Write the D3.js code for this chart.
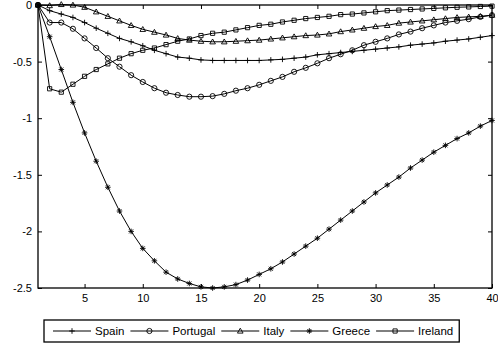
<!DOCTYPE html>
<html>
<head>
<meta charset="utf-8">
<script src="https://cdn.jsdelivr.net/npm/d3@7"></script>
<style>
  html, body { margin: 0; padding: 0; background: #fff; }
  svg { display: block; font-family: "Liberation Sans", Arial, sans-serif; }
</style>
</head>
<body>
<div id="app"></div>
<script>
const periods = [1,2,3,4,5,6,7,8,9,10,11,12,13,14,15,16,17,18,19,20,21,22,23,24,25,26,27,28,29,30,31,32,33,34,35,36,37,38,39,40];

const spain = [0,-0.05,-0.08,-0.11,-0.155,-0.205,-0.25,-0.295,-0.325,-0.36,-0.40,-0.43,-0.46,-0.47,-0.485,-0.49,-0.49,-0.49,-0.49,-0.49,-0.485,-0.48,-0.47,-0.46,-0.44,-0.43,-0.42,-0.41,-0.40,-0.39,-0.38,-0.37,-0.355,-0.345,-0.335,-0.32,-0.31,-0.30,-0.285,-0.27];
const portugal = [0,-0.155,-0.155,-0.21,-0.295,-0.38,-0.47,-0.545,-0.62,-0.68,-0.735,-0.775,-0.795,-0.81,-0.81,-0.805,-0.785,-0.757,-0.735,-0.705,-0.67,-0.635,-0.59,-0.555,-0.515,-0.47,-0.435,-0.40,-0.355,-0.325,-0.295,-0.26,-0.235,-0.205,-0.18,-0.155,-0.14,-0.125,-0.105,-0.09];
const italy = [0,-0.005,0.005,0,-0.02,-0.06,-0.10,-0.14,-0.18,-0.215,-0.24,-0.265,-0.295,-0.31,-0.32,-0.325,-0.325,-0.32,-0.315,-0.31,-0.30,-0.29,-0.28,-0.27,-0.265,-0.255,-0.235,-0.22,-0.205,-0.19,-0.18,-0.16,-0.15,-0.14,-0.13,-0.12,-0.11,-0.105,-0.10,-0.09];
const greece = [0,-0.28,-0.57,-0.86,-1.13,-1.38,-1.61,-1.82,-2.0,-2.15,-2.26,-2.36,-2.42,-2.46,-2.49,-2.5,-2.49,-2.47,-2.43,-2.38,-2.33,-2.27,-2.20,-2.13,-2.06,-1.98,-1.90,-1.82,-1.74,-1.66,-1.59,-1.52,-1.44,-1.37,-1.30,-1.24,-1.18,-1.13,-1.07,-1.02];
const ireland = [0,-0.74,-0.77,-0.70,-0.63,-0.57,-0.52,-0.47,-0.43,-0.40,-0.38,-0.35,-0.32,-0.30,-0.27,-0.25,-0.24,-0.22,-0.20,-0.18,-0.17,-0.15,-0.135,-0.12,-0.11,-0.10,-0.085,-0.08,-0.07,-0.06,-0.05,-0.045,-0.04,-0.035,-0.03,-0.025,-0.02,-0.017,-0.013,-0.01];

const seriesNames = ['Spain', 'Portugal', 'Italy', 'Greece', 'Ireland'];
const seriesValues = [spain, portugal, italy, greece, ireland];
const seriesMarkers = ['plus', 'circle', 'triangle', 'asterisk', 'square'];

const xTicks = [5, 10, 15, 20, 25, 30, 35, 40];
const yTicks = [0, -0.5, -1, -1.5, -2, -2.5];
const yTickLabels = ['0', '-0.5', '-1', '-1.5', '-2', '-2.5'];

const width = 498, height = 347;
const plot = { left: 38, right: 492, top: 5, bottom: 288 };

const svg = d3.select('#app').append('svg')
	.attr('width', width)
	.attr('height', height);

const x = d3.scaleLinear().domain([1, 40]).range([plot.left, plot.right]);
const y = d3.scaleLinear().domain([-2.5, 0]).range([plot.bottom, plot.top]);

// marker shapes, drawn as strokes like matlab does
const markerPath = (type) => {
	switch (type) {
		case 'plus': {
			const s = 2.8;
			return `M${-s},0H${s}M0,${-s}V${s}`;
		}
		case 'asterisk': {
			const s = 2.8, d = 2;
			return `M${-s},0H${s}M0,${-s}V${s}M${-d},${-d}L${d},${d}M${-d},${d}L${d},${-d}`;
		}
		case 'circle': {
			const r = 2.6;
			return `M${r},0A${r},${r} 0 1,1 ${-r},0A${r},${r} 0 1,1 ${r},0Z`;
		}
		case 'square': {
			const h = 2.1;
			return `M${-h},${-h}H${h}V${h}H${-h}Z`;
		}
		case 'triangle': {
			const h = 2.8;
			return `M0,${-h}L${h},${h * 0.75}H${-h}Z`;
		}
	}
};

// axes (ticks point inward on every side)
const axisBottom = d3.axisBottom(x).tickValues(xTicks).tickSizeInner(-4).tickSizeOuter(0).tickPadding(6);
const axisTop = d3.axisTop(x).tickValues(xTicks).tickSizeInner(-4).tickSizeOuter(0).tickFormat('');
const axisLeft = d3.axisLeft(y).tickValues(yTicks).tickSizeInner(-4).tickSizeOuter(0).tickPadding(6)
	.tickFormat((d, i) => yTickLabels[i]);
const axisRight = d3.axisRight(y).tickValues(yTicks).tickSizeInner(-4).tickSizeOuter(0).tickFormat('');

const styleAxis = (g) => {
	g.select('.domain').remove();
	g.selectAll('.tick line').attr('stroke', '#000').attr('stroke-width', 1);
	g.selectAll('.tick text').attr('fill', '#000').attr('font-size', 11)
		.attr('font-family', '"Liberation Sans", Arial, sans-serif');
};

svg.append('g').attr('transform', `translate(0,${plot.bottom})`).call(axisBottom).call(styleAxis);
svg.append('g').attr('transform', `translate(0,${plot.top})`).call(axisTop).call(styleAxis);
svg.append('g').attr('transform', `translate(${plot.left},0)`).call(axisLeft).call(styleAxis);
svg.append('g').attr('transform', `translate(${plot.right},0)`).call(axisRight).call(styleAxis);

const line = d3.line()
	.x((d) => x(d.t))
	.y((d) => y(d.v));

seriesValues.forEach((values, i) => {
	const pts = periods.map((t, j) => ({ t, v: values[j] }));
	const g = svg.append('g');
	g.append('path')
		.datum(pts)
		.attr('d', line)
		.attr('fill', 'none')
		.attr('stroke', '#000')
		.attr('stroke-width', 1);
	g.selectAll('path.mk')
		.data(pts)
		.join('path')
		.attr('class', 'mk')
		.attr('transform', (d) => `translate(${x(d.t)},${y(d.v)})`)
		.attr('d', markerPath(seriesMarkers[i]))
		.attr('fill', 'none')
		.attr('stroke', '#000')
		.attr('stroke-width', 0.9);
});

// frame
svg.append('rect')
	.attr('x', plot.left)
	.attr('y', plot.top)
	.attr('width', plot.right - plot.left)
	.attr('height', plot.bottom - plot.top)
	.attr('fill', 'none')
	.attr('stroke', '#000')
	.attr('stroke-width', 1.3);

// legend
const legend = svg.append('g');
const legendBox = legend.append('rect');
const lgTop = 320, lgHeight = 22, lgMid = lgTop + lgHeight / 2;
const tokenLen = 38;
let cursor = 53;
seriesNames.forEach((name, i) => {
	legend.append('line')
		.attr('x1', cursor).attr('x2', cursor + tokenLen)
		.attr('y1', lgMid).attr('y2', lgMid)
		.attr('stroke', '#000').attr('stroke-width', 1);
	legend.append('path')
		.attr('transform', `translate(${cursor + tokenLen / 2},${lgMid})`)
		.attr('d', markerPath(seriesMarkers[i]))
		.attr('fill', 'none').attr('stroke', '#000').attr('stroke-width', 0.9);
	const label = legend.append('text')
		.attr('x', cursor + tokenLen + 4)
		.attr('y', lgMid)
		.attr('dy', '0.35em')
		.attr('font-size', 11.5)
		.attr('fill', '#000')
		.text(name);
	cursor += tokenLen + 4 + label.node().getComputedTextLength() + 6;
});
legendBox
	.attr('x', 44)
	.attr('y', lgTop)
	.attr('width', cursor - 44)
	.attr('height', lgHeight)
	.attr('fill', '#fff')
	.attr('stroke', '#000')
	.attr('stroke-width', 1.3);
</script>
</body>
</html>
